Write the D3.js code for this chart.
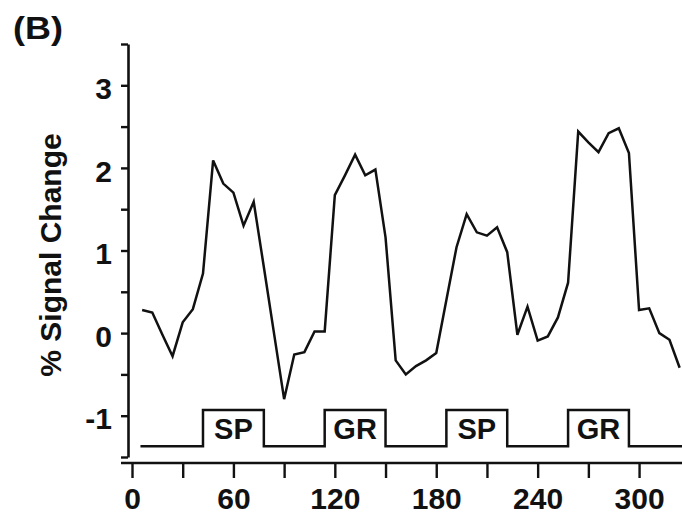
<!DOCTYPE html>
<html>
<head>
<meta charset="utf-8">
<script src="https://cdn.jsdelivr.net/npm/d3@7"></script>
<style>
  html, body { margin: 0; padding: 0; background: #fff; }
  svg text { font-family: "Liberation Sans", Arial, Helvetica, sans-serif; font-weight: bold; fill: #111; }
</style>
</head>
<body>
<svg id="chart" width="682" height="515"></svg>
<script>
// ---- data ----
const times = [6,12,18,24,30,36,42,48,54,60,66,72,78,84,90,96,102,108,114,120,126,132,138,144,150,156,162,168,174,180,186,192,198,204,210,216,222,228,234,240,246,252,258,264,270,276,282,288,294,300,306,312,318,324];
const signal = [0.28,0.25,-0.02,-0.28,0.13,0.29,0.72,2.09,1.81,1.70,1.30,1.59,0.80,0.00,-0.80,-0.26,-0.23,0.02,0.02,1.67,1.91,2.16,1.91,1.98,1.16,-0.33,-0.50,-0.40,-0.33,-0.24,0.40,1.04,1.44,1.22,1.18,1.28,0.98,-0.02,0.32,-0.09,-0.04,0.19,0.61,2.44,2.31,2.19,2.42,2.48,2.18,0.28,0.30,0.00,-0.08,-0.42];
const blockStarts = [42,114,186,258];
const blockEnds = [78,150,222,294];
const blockLabels = ["SP","GR","SP","GR"];
const blockRange = [5, 325.4];      // time span of the stimulus trace
const blockLevels = [-1.37, -0.93]; // off / on levels in axis units
const xTicks = [0,30,60,90,120,150,180,210,240,270,300];
const xTickLabels = [0,60,120,180,240,300];
const yTicks = [-1.5,-1,-0.5,0,0.5,1,1.5,2,2.5,3,3.5];
const yTickLabels = [-1,0,1,2,3];

// ---- layout ----
const svg = d3.select("#chart");
const x = d3.scaleLinear().domain([0, 325.4]).range([132, 682]);
const y = d3.scaleLinear().domain([-1.5, 3.5]).range([457, 44]);
const yAxisX = 128, xAxisY = 463;
const ink = "#111";

// y axis
const yAxis = d3.axisLeft(y)
  .tickValues(yTicks)
  .tickSize(7).tickSizeOuter(0).tickPadding(9)
  .tickFormat(d => yTickLabels.includes(d) ? String(d) : "");
const gy = svg.append("g").attr("transform", `translate(${yAxisX},0)`).call(yAxis);
gy.attr("font-family", null).attr("font-size", null);
gy.select(".domain").attr("stroke", ink).attr("stroke-width", 2.6);
gy.selectAll(".tick line").attr("stroke", ink).attr("stroke-width", 2.4);
gy.selectAll(".tick text").attr("font-size", 30).attr("dy", "0.44em").attr("fill", ink);

// x axis
const xAxis = d3.axisBottom(x)
  .tickValues(xTicks)
  .tickSize(15).tickSizeOuter(0).tickPadding(10)
  .tickFormat(d => xTickLabels.includes(d) ? String(d) : "");
const gx = svg.append("g").attr("transform", `translate(0,${xAxisY})`).call(xAxis);
gx.attr("font-family", null).attr("font-size", null);
gx.select(".domain").attr("d", `M${x(0) - 11},0H${x.range()[1]}`).attr("stroke", ink).attr("stroke-width", 2.6);
gx.selectAll(".tick line").attr("stroke", ink).attr("stroke-width", 2.4);
gx.selectAll(".tick text").attr("font-size", 30).attr("dy", "0.69em").attr("fill", ink);

// stimulus block trace
const pts = [[blockRange[0], blockLevels[0]]];
blockStarts.forEach((s, i) => {
  pts.push([s, blockLevels[0]], [s, blockLevels[1]], [blockEnds[i], blockLevels[1]], [blockEnds[i], blockLevels[0]]);
});
pts.push([blockRange[1], blockLevels[0]]);
svg.append("path")
  .attr("d", d3.line().x(d => x(d[0])).y(d => y(d[1]))(pts))
  .attr("fill", "none").attr("stroke", ink).attr("stroke-width", 2.5);

svg.selectAll(".blk")
  .data(blockLabels)
  .join("text")
  .attr("class", "blk")
  .attr("x", (d, i) => x((blockStarts[i] + blockEnds[i]) / 2))
  .attr("y", y((blockLevels[0] + blockLevels[1]) / 2))
  .attr("dy", "0.37em")
  .attr("text-anchor", "middle")
  .attr("font-size", 29)
  .text(d => d);

// signal line
svg.append("path")
  .attr("d", d3.line().x((d, i) => x(times[i])).y(d => y(d))(signal))
  .attr("fill", "none").attr("stroke", ink).attr("stroke-width", 2.5)
  .attr("stroke-linejoin", "miter");

// y label
svg.append("text")
  .attr("transform", "translate(61,255) rotate(-90)")
  .attr("text-anchor", "middle")
  .attr("font-size", 30)
  .text("% Signal Change");

// panel label
svg.append("text")
  .attr("transform", "translate(13,39) scale(1.16,1)")
  .attr("font-size", 31)
  .text("(B)");
</script>
</body>
</html>
